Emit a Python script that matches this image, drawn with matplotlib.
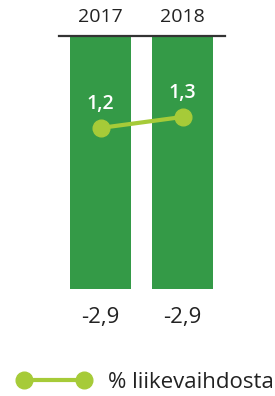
import matplotlib
matplotlib.use('Agg')
import matplotlib.pyplot as plt
from matplotlib.lines import Line2D

plt.rcParams['font.family'] = ['Open Sans', 'DejaVu Sans']

years = ['2017', '2018']
bar_values = [-2.9, -2.9]
bar_labels = ['-2,9', '-2,9']
pct_values = [1.2, 1.3]
pct_labels = ['1,2', '1,3']
legend_label = '% liikevaihdosta'

bar_color = '#349a47'
line_color = '#a6cb38'
text_color = '#222222'

fig = plt.figure(figsize=(2.75, 3.96), dpi=100)
ax = fig.add_axes([59/275, 1 - 289/396, 166/275, 253/396])
x = [0, 1]
ax.bar(x, bar_values, width=0.744, color=bar_color, zorder=1)
ax.set_xlim(-0.506, 1.518)
ax.set_ylim(-2.9, 0)
ax.axhline(0.004, color='#333333', lw=1.6, clip_on=False, zorder=3)
for xi, yr in zip(x, years):
    ax.text(xi, 1.0 + 19/253, yr, transform=ax.get_xaxis_transform(), ha='center', va='center',
            fontsize=14, color=text_color)
for xi, lab in zip(x, bar_labels):
    ax.text(xi, -28/253, lab, transform=ax.get_xaxis_transform(), ha='center', va='center',
            fontsize=16, color=text_color)
ax.axis('off')

ax2 = ax.twinx()
ax2.set_ylim(-0.264, 2.036)
ax2.plot(x, pct_values, color=line_color, lw=3, marker='o', markersize=12, zorder=5)
for xi, v, lab in zip(x, pct_values, pct_labels):
    ax2.text(xi, v + 0.22, lab, ha='center', va='center', fontsize=14, fontweight='semibold', color='white')
ax2.axis('off')

handle = Line2D([0], [0], color=line_color, lw=3, marker='o', markersize=12)
fig.legend([handle], [legend_label], loc='center left', bbox_to_anchor=(17/275, 1 - 382/396),
           frameon=False, fontsize=16, handlelength=3.3, labelcolor=text_color,
           borderaxespad=0, borderpad=0, handletextpad=0.8, numpoints=2)

fig.savefig('out.png', dpi=100)
